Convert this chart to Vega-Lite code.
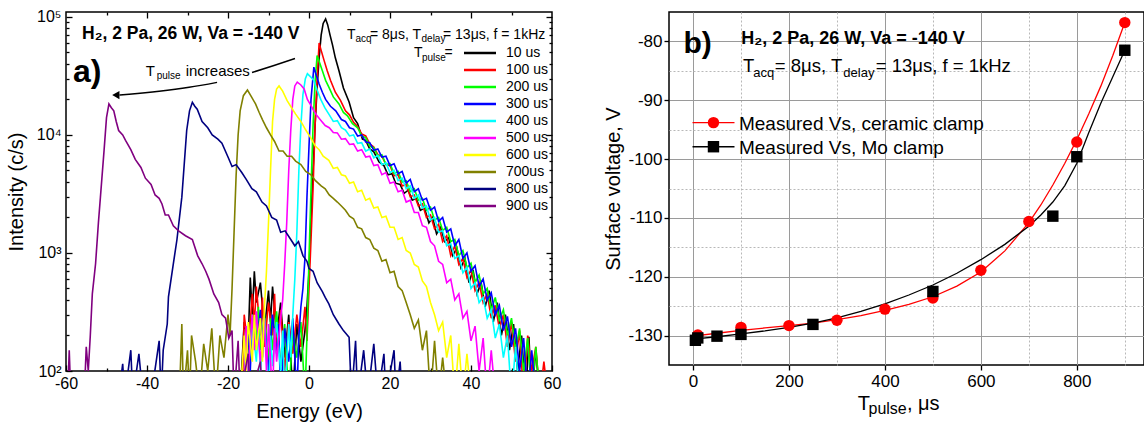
{
"$schema": "https://vega.github.io/schema/vega-lite/v6.json",
"padding": {"left": 5, "top": 8, "right": 0, "bottom": 0},
"spacing": 40,
"resolve": {"scale": {"color": "independent", "stroke": "independent", "shape": "independent"}, "legend": {"color": "independent"}},
"config": {
  "font": "Liberation Sans",
  "view": {"stroke": "#000000", "strokeWidth": 1.5},
  "axis": {"domain": false, "grid": false, "tickColor": "#000000", "tickWidth": 1.3, "labelColor": "#000000", "titleColor": "#000000", "titleFontWeight": "normal", "labelFont": "Liberation Sans", "titleFont": "Liberation Sans", "labelFlush": false, "labelOverlap": false}
},
"datasets": {
  "spec": [
{"s":"10 us","E":-17,"I":60},{"s":"10 us","E":-16,"I":260},{"s":"10 us","E":-15,"I":180},{"s":"10 us","E":-14.5,"I":620},{"s":"10 us","E":-14,"I":300},{"s":"10 us","E":-13.5,"I":700},{"s":"10 us","E":-13,"I":380},{"s":"10 us","E":-12,"I":560},{"s":"10 us","E":-11,"I":220},{"s":"10 us","E":-10,"I":480},{"s":"10 us","E":-9.5,"I":260},{"s":"10 us","E":-9,"I":520},{"s":"10 us","E":-8,"I":200},{"s":"10 us","E":-7,"I":380},{"s":"10 us","E":-6,"I":130},{"s":"10 us","E":-5,"I":300},{"s":"10 us","E":-4,"I":60},{"s":"10 us","E":-3,"I":250},{"s":"10 us","E":-2,"I":120},{"s":"10 us","E":-1,"I":220},{"s":"10 us","E":-0.5,"I":350},{"s":"10 us","E":0,"I":700},{"s":"10 us","E":0.5,"I":2000},{"s":"10 us","E":1,"I":5000},{"s":"10 us","E":1.5,"I":12000},{"s":"10 us","E":2,"I":25000},{"s":"10 us","E":2.5,"I":45000},{"s":"10 us","E":3,"I":70000},{"s":"10 us","E":3.5,"I":88000},{"s":"10 us","E":4.1,"I":96000},{"s":"10 us","E":4.6,"I":86000},{"s":"10 us","E":5.2,"I":70000},{"s":"10 us","E":5.8,"I":58000},{"s":"10 us","E":6.5,"I":45000},{"s":"10 us","E":7.4,"I":35000},{"s":"10 us","E":8.5,"I":25000},{"s":"10 us","E":9.9,"I":19000},{"s":"10 us","E":11,"I":14000},{"s":"10 us","E":12,"I":12500},{"s":"10 us","E":13.2,"I":9200},{"s":"10 us","E":14,"I":9000},{"s":"10 us","E":15,"I":7600},{"s":"10 us","E":16,"I":7200},{"s":"10 us","E":17.3,"I":5900},{"s":"10 us","E":18.5,"I":5500},{"s":"10 us","E":19.5,"I":4600},{"s":"10 us","E":20.5,"I":4700},{"s":"10 us","E":21.4,"I":3900},{"s":"10 us","E":22.5,"I":3800},{"s":"10 us","E":23.5,"I":3200},{"s":"10 us","E":24.5,"I":3400},{"s":"10 us","E":25.5,"I":2800},{"s":"10 us","E":26.5,"I":2900},{"s":"10 us","E":27.5,"I":2300},{"s":"10 us","E":28.5,"I":2400},{"s":"10 us","E":29.6,"I":1800},{"s":"10 us","E":30.5,"I":2000},{"s":"10 us","E":31.5,"I":1450},{"s":"10 us","E":32.5,"I":1650},{"s":"10 us","E":33.5,"I":1250},{"s":"10 us","E":34.5,"I":1350},{"s":"10 us","E":35.5,"I":950},{"s":"10 us","E":36.5,"I":1100},{"s":"10 us","E":37.5,"I":750},{"s":"10 us","E":38.5,"I":900},{"s":"10 us","E":39.5,"I":560},{"s":"10 us","E":40.5,"I":720},{"s":"10 us","E":41.5,"I":450},{"s":"10 us","E":42.5,"I":560},{"s":"10 us","E":43.5,"I":350},{"s":"10 us","E":44.5,"I":480},{"s":"10 us","E":45.5,"I":260},{"s":"10 us","E":46.5,"I":380},{"s":"10 us","E":47.5,"I":200},{"s":"10 us","E":48.5,"I":300},{"s":"10 us","E":49.5,"I":150},{"s":"10 us","E":50.5,"I":250},{"s":"10 us","E":51.5,"I":100},{"s":"10 us","E":52.5,"I":200},{"s":"10 us","E":53.5,"I":60},{"s":"10 us","E":54.3,"I":195},{"s":"10 us","E":55,"I":60},{"s":"10 us","E":56,"I":150},{"s":"10 us","E":57,"I":60},{"s":"10 us","E":58,"I":60},
{"s":"100 us","E":-16.5,"I":60},{"s":"100 us","E":-16,"I":300},{"s":"100 us","E":-15,"I":150},{"s":"100 us","E":-14,"I":450},{"s":"100 us","E":-13.5,"I":250},{"s":"100 us","E":-13,"I":520},{"s":"100 us","E":-12,"I":200},{"s":"100 us","E":-11.5,"I":420},{"s":"100 us","E":-11,"I":160},{"s":"100 us","E":-10,"I":380},{"s":"100 us","E":-9,"I":200},{"s":"100 us","E":-8.5,"I":450},{"s":"100 us","E":-8,"I":150},{"s":"100 us","E":-7,"I":330},{"s":"100 us","E":-6,"I":100},{"s":"100 us","E":-5,"I":260},{"s":"100 us","E":-4,"I":140},{"s":"100 us","E":-3,"I":300},{"s":"100 us","E":-2,"I":160},{"s":"100 us","E":-1,"I":350},{"s":"100 us","E":-0.5,"I":180},{"s":"100 us","E":0,"I":500},{"s":"100 us","E":0.5,"I":1300},{"s":"100 us","E":1,"I":3500},{"s":"100 us","E":1.5,"I":12000},{"s":"100 us","E":2,"I":30000},{"s":"100 us","E":2.5,"I":60000},{"s":"100 us","E":3,"I":52000},{"s":"100 us","E":3.7,"I":43000},{"s":"100 us","E":4.5,"I":35000},{"s":"100 us","E":5.3,"I":29000},{"s":"100 us","E":6.5,"I":23000},{"s":"100 us","E":7.8,"I":19500},{"s":"100 us","E":9,"I":16000},{"s":"100 us","E":10,"I":14800},{"s":"100 us","E":11,"I":12800},{"s":"100 us","E":12,"I":11800},{"s":"100 us","E":13,"I":10200},{"s":"100 us","E":14,"I":9800},{"s":"100 us","E":15,"I":8400},{"s":"100 us","E":16,"I":7900},{"s":"100 us","E":17,"I":6800},{"s":"100 us","E":18,"I":6600},{"s":"100 us","E":19,"I":5600},{"s":"100 us","E":20,"I":5500},{"s":"100 us","E":21,"I":4500},{"s":"100 us","E":22,"I":4600},{"s":"100 us","E":23,"I":3700},{"s":"100 us","E":24,"I":3800},{"s":"100 us","E":25,"I":3000},{"s":"100 us","E":26,"I":3100},{"s":"100 us","E":27,"I":2500},{"s":"100 us","E":28,"I":2600},{"s":"100 us","E":29,"I":2000},{"s":"100 us","E":30,"I":2100},{"s":"100 us","E":31,"I":1600},{"s":"100 us","E":32,"I":1750},{"s":"100 us","E":33,"I":1250},{"s":"100 us","E":34,"I":1400},{"s":"100 us","E":35,"I":950},{"s":"100 us","E":36,"I":1150},{"s":"100 us","E":37,"I":800},{"s":"100 us","E":38,"I":900},{"s":"100 us","E":39,"I":620},{"s":"100 us","E":40,"I":720},{"s":"100 us","E":41,"I":480},{"s":"100 us","E":42,"I":560},{"s":"100 us","E":43,"I":380},{"s":"100 us","E":44,"I":450},{"s":"100 us","E":45,"I":280},{"s":"100 us","E":46,"I":360},{"s":"100 us","E":47,"I":230},{"s":"100 us","E":48,"I":300},{"s":"100 us","E":49,"I":160},{"s":"100 us","E":50,"I":260},{"s":"100 us","E":51,"I":120},{"s":"100 us","E":52,"I":220},{"s":"100 us","E":53,"I":60},{"s":"100 us","E":54,"I":200},{"s":"100 us","E":55,"I":100},{"s":"100 us","E":56,"I":160},{"s":"100 us","E":57,"I":60},{"s":"100 us","E":58,"I":120},{"s":"100 us","E":59,"I":60},
{"s":"200 us","E":-16,"I":60},{"s":"200 us","E":-15.5,"I":200},{"s":"200 us","E":-15,"I":120},{"s":"200 us","E":-14,"I":300},{"s":"200 us","E":-13,"I":180},{"s":"200 us","E":-12.5,"I":350},{"s":"200 us","E":-12,"I":150},{"s":"200 us","E":-11,"I":300},{"s":"200 us","E":-10,"I":120},{"s":"200 us","E":-9.5,"I":280},{"s":"200 us","E":-9,"I":150},{"s":"200 us","E":-8,"I":320},{"s":"200 us","E":-7,"I":110},{"s":"200 us","E":-6,"I":250},{"s":"200 us","E":-5,"I":60},{"s":"200 us","E":-4,"I":220},{"s":"200 us","E":-3,"I":130},{"s":"200 us","E":-2,"I":260},{"s":"200 us","E":-1,"I":60},{"s":"200 us","E":-0.5,"I":200},{"s":"200 us","E":0,"I":900},{"s":"200 us","E":0.5,"I":3500},{"s":"200 us","E":1,"I":12000},{"s":"200 us","E":1.5,"I":28000},{"s":"200 us","E":2,"I":47000},{"s":"200 us","E":2.6,"I":41000},{"s":"200 us","E":3.3,"I":35000},{"s":"200 us","E":4.1,"I":29000},{"s":"200 us","E":4.9,"I":25400},{"s":"200 us","E":6,"I":21000},{"s":"200 us","E":7.4,"I":18300},{"s":"200 us","E":8.5,"I":15500},{"s":"200 us","E":9.5,"I":14500},{"s":"200 us","E":10.7,"I":12500},{"s":"200 us","E":12,"I":11500},{"s":"200 us","E":13,"I":9800},{"s":"200 us","E":14,"I":9500},{"s":"200 us","E":15,"I":8000},{"s":"200 us","E":16,"I":7800},{"s":"200 us","E":17,"I":6600},{"s":"200 us","E":18,"I":6800},{"s":"200 us","E":19,"I":5600},{"s":"200 us","E":20,"I":5700},{"s":"200 us","E":21,"I":4700},{"s":"200 us","E":22,"I":4900},{"s":"200 us","E":23,"I":4000},{"s":"200 us","E":24,"I":4100},{"s":"200 us","E":25,"I":3300},{"s":"200 us","E":26,"I":3500},{"s":"200 us","E":27,"I":2800},{"s":"200 us","E":28,"I":2900},{"s":"200 us","E":29,"I":2300},{"s":"200 us","E":30,"I":2450},{"s":"200 us","E":31,"I":1900},{"s":"200 us","E":32,"I":2000},{"s":"200 us","E":33,"I":1550},{"s":"200 us","E":34,"I":1650},{"s":"200 us","E":35,"I":1250},{"s":"200 us","E":36,"I":1300},{"s":"200 us","E":37,"I":950},{"s":"200 us","E":38,"I":1050},{"s":"200 us","E":39,"I":750},{"s":"200 us","E":40,"I":820},{"s":"200 us","E":41,"I":560},{"s":"200 us","E":42,"I":650},{"s":"200 us","E":43,"I":450},{"s":"200 us","E":44,"I":500},{"s":"200 us","E":45,"I":330},{"s":"200 us","E":46,"I":420},{"s":"200 us","E":47,"I":270},{"s":"200 us","E":48,"I":330},{"s":"200 us","E":49,"I":200},{"s":"200 us","E":50,"I":280},{"s":"200 us","E":51,"I":150},{"s":"200 us","E":52,"I":230},{"s":"200 us","E":53,"I":100},{"s":"200 us","E":54,"I":190},{"s":"200 us","E":55,"I":60},{"s":"200 us","E":56,"I":160},{"s":"200 us","E":57,"I":60},
{"s":"300 us","E":-16,"I":60},{"s":"300 us","E":-15,"I":220},{"s":"300 us","E":-14.5,"I":100},{"s":"300 us","E":-14,"I":280},{"s":"300 us","E":-13,"I":150},{"s":"300 us","E":-12,"I":330},{"s":"300 us","E":-11.5,"I":130},{"s":"300 us","E":-11,"I":260},{"s":"300 us","E":-10,"I":100},{"s":"300 us","E":-9,"I":300},{"s":"300 us","E":-8,"I":140},{"s":"300 us","E":-7.5,"I":250},{"s":"300 us","E":-7,"I":60},{"s":"300 us","E":-6,"I":230},{"s":"300 us","E":-5,"I":120},{"s":"300 us","E":-4,"I":280},{"s":"300 us","E":-3,"I":60},{"s":"300 us","E":-2.5,"I":200},{"s":"300 us","E":-2,"I":350},{"s":"300 us","E":-1.5,"I":500},{"s":"300 us","E":-1,"I":900},{"s":"300 us","E":-0.5,"I":3000},{"s":"300 us","E":0,"I":8000},{"s":"300 us","E":0.5,"I":20000},{"s":"300 us","E":1.2,"I":37500},{"s":"300 us","E":1.8,"I":32000},{"s":"300 us","E":2.5,"I":27000},{"s":"300 us","E":3.3,"I":23000},{"s":"300 us","E":4.1,"I":20000},{"s":"300 us","E":5.3,"I":17500},{"s":"300 us","E":6.6,"I":16000},{"s":"300 us","E":8,"I":13500},{"s":"300 us","E":9,"I":13000},{"s":"300 us","E":10,"I":11500},{"s":"300 us","E":11,"I":11200},{"s":"300 us","E":12,"I":9800},{"s":"300 us","E":13,"I":10000},{"s":"300 us","E":14,"I":8700},{"s":"300 us","E":15,"I":8600},{"s":"300 us","E":16,"I":7400},{"s":"300 us","E":17,"I":7600},{"s":"300 us","E":18,"I":6500},{"s":"300 us","E":19,"I":6600},{"s":"300 us","E":20,"I":5500},{"s":"300 us","E":21,"I":5700},{"s":"300 us","E":22,"I":4700},{"s":"300 us","E":23,"I":4900},{"s":"300 us","E":24,"I":3900},{"s":"300 us","E":25,"I":4200},{"s":"300 us","E":26,"I":3300},{"s":"300 us","E":27,"I":3500},{"s":"300 us","E":28,"I":2800},{"s":"300 us","E":29,"I":2900},{"s":"300 us","E":30,"I":2300},{"s":"300 us","E":31,"I":2450},{"s":"300 us","E":32,"I":1850},{"s":"300 us","E":33,"I":2000},{"s":"300 us","E":34,"I":1500},{"s":"300 us","E":35,"I":1600},{"s":"300 us","E":36,"I":1150},{"s":"300 us","E":37,"I":1300},{"s":"300 us","E":38,"I":900},{"s":"300 us","E":39,"I":1000},{"s":"300 us","E":40,"I":700},{"s":"300 us","E":41,"I":780},{"s":"300 us","E":42,"I":520},{"s":"300 us","E":43,"I":600},{"s":"300 us","E":44,"I":400},{"s":"300 us","E":45,"I":460},{"s":"300 us","E":46,"I":300},{"s":"300 us","E":47,"I":360},{"s":"300 us","E":48,"I":220},{"s":"300 us","E":49,"I":290},{"s":"300 us","E":50,"I":160},{"s":"300 us","E":51,"I":230},{"s":"300 us","E":52,"I":100},{"s":"300 us","E":53,"I":190},{"s":"300 us","E":54,"I":60},{"s":"300 us","E":55,"I":150},{"s":"300 us","E":56,"I":60},
{"s":"400 us","E":-16,"I":60},{"s":"400 us","E":-15.5,"I":180},{"s":"400 us","E":-15,"I":100},{"s":"400 us","E":-14,"I":250},{"s":"400 us","E":-13,"I":120},{"s":"400 us","E":-12.5,"I":230},{"s":"400 us","E":-12,"I":100},{"s":"400 us","E":-11,"I":280},{"s":"400 us","E":-10,"I":60},{"s":"400 us","E":-9.5,"I":200},{"s":"400 us","E":-9,"I":110},{"s":"400 us","E":-8,"I":260},{"s":"400 us","E":-7,"I":100},{"s":"400 us","E":-6.5,"I":220},{"s":"400 us","E":-6,"I":60},{"s":"400 us","E":-5,"I":250},{"s":"400 us","E":-4.5,"I":130},{"s":"400 us","E":-4,"I":300},{"s":"400 us","E":-3.5,"I":600},{"s":"400 us","E":-3,"I":1500},{"s":"400 us","E":-2.5,"I":5000},{"s":"400 us","E":-2,"I":12000},{"s":"400 us","E":-1.5,"I":22000},{"s":"400 us","E":-0.9,"I":30000},{"s":"400 us","E":-0.4,"I":33000},{"s":"400 us","E":0.4,"I":31000},{"s":"400 us","E":1.2,"I":29000},{"s":"400 us","E":2,"I":24000},{"s":"400 us","E":2.9,"I":20000},{"s":"400 us","E":3.9,"I":17000},{"s":"400 us","E":4.9,"I":15000},{"s":"400 us","E":6,"I":13000},{"s":"400 us","E":7,"I":13200},{"s":"400 us","E":8,"I":11500},{"s":"400 us","E":9,"I":11000},{"s":"400 us","E":10,"I":9800},{"s":"400 us","E":11,"I":10000},{"s":"400 us","E":12,"I":8500},{"s":"400 us","E":13,"I":8600},{"s":"400 us","E":14,"I":7300},{"s":"400 us","E":15,"I":7600},{"s":"400 us","E":16,"I":6400},{"s":"400 us","E":17,"I":6700},{"s":"400 us","E":18,"I":5600},{"s":"400 us","E":19,"I":5800},{"s":"400 us","E":20,"I":4800},{"s":"400 us","E":21,"I":5000},{"s":"400 us","E":22,"I":4100},{"s":"400 us","E":23,"I":4300},{"s":"400 us","E":24,"I":3500},{"s":"400 us","E":25,"I":3700},{"s":"400 us","E":26,"I":2900},{"s":"400 us","E":27,"I":3100},{"s":"400 us","E":28,"I":2400},{"s":"400 us","E":29,"I":2500},{"s":"400 us","E":30,"I":1900},{"s":"400 us","E":31,"I":2000},{"s":"400 us","E":32,"I":1500},{"s":"400 us","E":33,"I":1550},{"s":"400 us","E":34,"I":1150},{"s":"400 us","E":35,"I":1200},{"s":"400 us","E":36,"I":900},{"s":"400 us","E":37,"I":950},{"s":"400 us","E":38,"I":680},{"s":"400 us","E":39,"I":760},{"s":"400 us","E":40,"I":500},{"s":"400 us","E":41,"I":560},{"s":"400 us","E":42,"I":380},{"s":"400 us","E":43,"I":420},{"s":"400 us","E":44,"I":280},{"s":"400 us","E":45,"I":330},{"s":"400 us","E":46,"I":190},{"s":"400 us","E":47,"I":250},{"s":"400 us","E":48,"I":130},{"s":"400 us","E":49,"I":200},{"s":"400 us","E":50,"I":60},{"s":"400 us","E":51,"I":160},{"s":"400 us","E":52,"I":60},
{"s":"500 us","E":-16,"I":60},{"s":"500 us","E":-15.5,"I":240},{"s":"500 us","E":-15,"I":100},{"s":"500 us","E":-14,"I":300},{"s":"500 us","E":-13.5,"I":150},{"s":"500 us","E":-13,"I":320},{"s":"500 us","E":-12,"I":120},{"s":"500 us","E":-11,"I":280},{"s":"500 us","E":-10.5,"I":100},{"s":"500 us","E":-10,"I":250},{"s":"500 us","E":-9,"I":60},{"s":"500 us","E":-8.5,"I":230},{"s":"500 us","E":-8,"I":120},{"s":"500 us","E":-7,"I":280},{"s":"500 us","E":-6.5,"I":400},{"s":"500 us","E":-6,"I":800},{"s":"500 us","E":-5.5,"I":1800},{"s":"500 us","E":-5,"I":5000},{"s":"500 us","E":-4.5,"I":11000},{"s":"500 us","E":-4,"I":20000},{"s":"500 us","E":-3.5,"I":26000},{"s":"500 us","E":-2.9,"I":28000},{"s":"500 us","E":-2,"I":26500},{"s":"500 us","E":-1.2,"I":24500},{"s":"500 us","E":-0.4,"I":20000},{"s":"500 us","E":0.4,"I":18000},{"s":"500 us","E":1.2,"I":16000},{"s":"500 us","E":2,"I":14500},{"s":"500 us","E":3,"I":13200},{"s":"500 us","E":4,"I":12000},{"s":"500 us","E":5,"I":11500},{"s":"500 us","E":6,"I":10500},{"s":"500 us","E":7,"I":10400},{"s":"500 us","E":8,"I":9200},{"s":"500 us","E":9,"I":9300},{"s":"500 us","E":10,"I":8300},{"s":"500 us","E":11,"I":8400},{"s":"500 us","E":12,"I":7300},{"s":"500 us","E":13,"I":7500},{"s":"500 us","E":14,"I":6500},{"s":"500 us","E":15,"I":6600},{"s":"500 us","E":16,"I":5500},{"s":"500 us","E":17,"I":5600},{"s":"500 us","E":18,"I":4600},{"s":"500 us","E":19,"I":4800},{"s":"500 us","E":20,"I":3900},{"s":"500 us","E":21,"I":4000},{"s":"500 us","E":22,"I":3300},{"s":"500 us","E":23,"I":3400},{"s":"500 us","E":24,"I":2700},{"s":"500 us","E":25,"I":2800},{"s":"500 us","E":26,"I":2200},{"s":"500 us","E":27,"I":2200},{"s":"500 us","E":28,"I":1700},{"s":"500 us","E":29,"I":1650},{"s":"500 us","E":30,"I":1250},{"s":"500 us","E":31,"I":1150},{"s":"500 us","E":32,"I":850},{"s":"500 us","E":33,"I":800},{"s":"500 us","E":34,"I":560},{"s":"500 us","E":35,"I":600},{"s":"500 us","E":36,"I":400},{"s":"500 us","E":37,"I":450},{"s":"500 us","E":38,"I":280},{"s":"500 us","E":39,"I":320},{"s":"500 us","E":40,"I":180},{"s":"500 us","E":41,"I":240},{"s":"500 us","E":42,"I":100},{"s":"500 us","E":43,"I":190},{"s":"500 us","E":44,"I":60},{"s":"500 us","E":45,"I":150},{"s":"500 us","E":46,"I":60},
{"s":"600 us","E":-17,"I":60},{"s":"600 us","E":-16,"I":200},{"s":"600 us","E":-15.5,"I":100},{"s":"600 us","E":-15,"I":260},{"s":"600 us","E":-14,"I":120},{"s":"600 us","E":-13.5,"I":300},{"s":"600 us","E":-13,"I":150},{"s":"600 us","E":-12,"I":280},{"s":"600 us","E":-11.5,"I":120},{"s":"600 us","E":-11,"I":350},{"s":"600 us","E":-10.5,"I":700},{"s":"600 us","E":-10,"I":1800},{"s":"600 us","E":-9.5,"I":5000},{"s":"600 us","E":-9,"I":13000},{"s":"600 us","E":-8.5,"I":20000},{"s":"600 us","E":-8,"I":24500},{"s":"600 us","E":-7.4,"I":26000},{"s":"600 us","E":-6.5,"I":23500},{"s":"600 us","E":-5.4,"I":19500},{"s":"600 us","E":-4.3,"I":17000},{"s":"600 us","E":-3.3,"I":15000},{"s":"600 us","E":-2,"I":13000},{"s":"600 us","E":-0.8,"I":11000},{"s":"600 us","E":0.4,"I":9500},{"s":"600 us","E":1.6,"I":8000},{"s":"600 us","E":2.5,"I":7500},{"s":"600 us","E":3.5,"I":6600},{"s":"600 us","E":4.9,"I":6100},{"s":"600 us","E":6,"I":5200},{"s":"600 us","E":7,"I":5300},{"s":"600 us","E":8,"I":4600},{"s":"600 us","E":9,"I":4500},{"s":"600 us","E":10,"I":3900},{"s":"600 us","E":11,"I":4000},{"s":"600 us","E":12,"I":3300},{"s":"600 us","E":13,"I":3400},{"s":"600 us","E":14,"I":2800},{"s":"600 us","E":15,"I":2900},{"s":"600 us","E":16,"I":2400},{"s":"600 us","E":17,"I":2450},{"s":"600 us","E":18,"I":2000},{"s":"600 us","E":19,"I":2050},{"s":"600 us","E":20,"I":1650},{"s":"600 us","E":21,"I":1650},{"s":"600 us","E":22,"I":1300},{"s":"600 us","E":23,"I":1350},{"s":"600 us","E":24,"I":1050},{"s":"600 us","E":25,"I":1000},{"s":"600 us","E":26,"I":800},{"s":"600 us","E":27,"I":760},{"s":"600 us","E":28,"I":580},{"s":"600 us","E":29,"I":520},{"s":"600 us","E":30,"I":380},{"s":"600 us","E":31,"I":300},{"s":"600 us","E":32,"I":220},{"s":"600 us","E":33,"I":260},{"s":"600 us","E":34,"I":130},{"s":"600 us","E":35,"I":200},{"s":"600 us","E":36,"I":60},{"s":"600 us","E":37,"I":170},{"s":"600 us","E":38,"I":60},{"s":"600 us","E":39,"I":140},{"s":"600 us","E":40,"I":60},
{"s":"700us","E":-32,"I":60},{"s":"700us","E":-31.4,"I":250},{"s":"700us","E":-31,"I":60},{"s":"700us","E":-30,"I":150},{"s":"700us","E":-29.5,"I":60},{"s":"700us","E":-29,"I":200},{"s":"700us","E":-28,"I":120},{"s":"700us","E":-27,"I":60},{"s":"700us","E":-26,"I":170},{"s":"700us","E":-25,"I":100},{"s":"700us","E":-24,"I":230},{"s":"700us","E":-23,"I":60},{"s":"700us","E":-22,"I":200},{"s":"700us","E":-21,"I":130},{"s":"700us","E":-20,"I":300},{"s":"700us","E":-19.5,"I":200},{"s":"700us","E":-19,"I":500},{"s":"700us","E":-18.5,"I":1500},{"s":"700us","E":-18,"I":4500},{"s":"700us","E":-17.5,"I":10000},{"s":"700us","E":-17,"I":16000},{"s":"700us","E":-16.2,"I":21500},{"s":"700us","E":-15.2,"I":24000},{"s":"700us","E":-14.2,"I":21000},{"s":"700us","E":-13.2,"I":18300},{"s":"700us","E":-12.3,"I":15500},{"s":"700us","E":-11.5,"I":13500},{"s":"700us","E":-10.5,"I":11500},{"s":"700us","E":-9.5,"I":10000},{"s":"700us","E":-8.5,"I":8800},{"s":"700us","E":-7.4,"I":7300},{"s":"700us","E":-6.4,"I":7300},{"s":"700us","E":-5.4,"I":6600},{"s":"700us","E":-4.3,"I":6600},{"s":"700us","E":-3.3,"I":6000},{"s":"700us","E":-2,"I":5600},{"s":"700us","E":-0.8,"I":4900},{"s":"700us","E":0.5,"I":4600},{"s":"700us","E":1.6,"I":4100},{"s":"700us","E":3,"I":3700},{"s":"700us","E":4,"I":3500},{"s":"700us","E":5,"I":3100},{"s":"700us","E":6,"I":2900},{"s":"700us","E":7,"I":2700},{"s":"700us","E":8,"I":2500},{"s":"700us","E":9,"I":2300},{"s":"700us","E":10,"I":2050},{"s":"700us","E":11,"I":1950},{"s":"700us","E":12,"I":1650},{"s":"700us","E":13,"I":1600},{"s":"700us","E":14,"I":1350},{"s":"700us","E":15,"I":1300},{"s":"700us","E":16,"I":1100},{"s":"700us","E":17,"I":1050},{"s":"700us","E":18,"I":850},{"s":"700us","E":19,"I":880},{"s":"700us","E":20,"I":680},{"s":"700us","E":21,"I":700},{"s":"700us","E":22,"I":520},{"s":"700us","E":23,"I":480},{"s":"700us","E":24,"I":380},{"s":"700us","E":25,"I":300},{"s":"700us","E":26,"I":230},{"s":"700us","E":27,"I":270},{"s":"700us","E":28,"I":150},{"s":"700us","E":29,"I":220},{"s":"700us","E":30,"I":60},{"s":"700us","E":31,"I":180},{"s":"700us","E":32,"I":60},{"s":"700us","E":33,"I":130},{"s":"700us","E":34,"I":60},
{"s":"800 us","E":-47,"I":60},{"s":"800 us","E":-46,"I":115},{"s":"800 us","E":-45.5,"I":60},{"s":"800 us","E":-44,"I":150},{"s":"800 us","E":-43.5,"I":60},{"s":"800 us","E":-42,"I":140},{"s":"800 us","E":-41,"I":60},{"s":"800 us","E":-40,"I":100},{"s":"800 us","E":-39,"I":60},{"s":"800 us","E":-37,"I":180},{"s":"800 us","E":-36.5,"I":60},{"s":"800 us","E":-36,"I":150},{"s":"800 us","E":-35,"I":250},{"s":"800 us","E":-34.7,"I":425},{"s":"800 us","E":-33.5,"I":810},{"s":"800 us","E":-32.6,"I":1300},{"s":"800 us","E":-31.4,"I":2970},{"s":"800 us","E":-30.2,"I":10900},{"s":"800 us","E":-29.5,"I":16000},{"s":"800 us","E":-28.8,"I":18900},{"s":"800 us","E":-28.2,"I":17500},{"s":"800 us","E":-27.6,"I":16500},{"s":"800 us","E":-26.4,"I":13000},{"s":"800 us","E":-25,"I":11500},{"s":"800 us","E":-23.9,"I":10000},{"s":"800 us","E":-22.5,"I":9200},{"s":"800 us","E":-21.5,"I":8500},{"s":"800 us","E":-20,"I":6500},{"s":"800 us","E":-19,"I":5400},{"s":"800 us","E":-18,"I":5600},{"s":"800 us","E":-16.6,"I":4800},{"s":"800 us","E":-15.5,"I":4200},{"s":"800 us","E":-14.1,"I":3500},{"s":"800 us","E":-13,"I":3300},{"s":"800 us","E":-11.6,"I":2700},{"s":"800 us","E":-10.5,"I":2500},{"s":"800 us","E":-9.2,"I":2000},{"s":"800 us","E":-8,"I":1900},{"s":"800 us","E":-7,"I":1500},{"s":"800 us","E":-5.9,"I":1540},{"s":"800 us","E":-4.5,"I":1300},{"s":"800 us","E":-3.5,"I":1150},{"s":"800 us","E":-2.6,"I":1250},{"s":"800 us","E":-1.5,"I":950},{"s":"800 us","E":-0.5,"I":850},{"s":"800 us","E":0,"I":740},{"s":"800 us","E":1,"I":700},{"s":"800 us","E":2,"I":560},{"s":"800 us","E":3.3,"I":470},{"s":"800 us","E":4,"I":420},{"s":"800 us","E":4.9,"I":370},{"s":"800 us","E":6,"I":300},{"s":"800 us","E":7.4,"I":250},{"s":"800 us","E":8.5,"I":220},{"s":"800 us","E":9.9,"I":193},{"s":"800 us","E":10.5,"I":60},{"s":"800 us","E":11.5,"I":180},{"s":"800 us","E":12,"I":60},{"s":"800 us","E":13.5,"I":150},{"s":"800 us","E":14.5,"I":60},{"s":"800 us","E":16,"I":170},{"s":"800 us","E":17,"I":60},{"s":"800 us","E":18.5,"I":140},{"s":"800 us","E":19,"I":60},{"s":"800 us","E":21,"I":150},{"s":"800 us","E":21.5,"I":60},{"s":"800 us","E":22.5,"I":120},{"s":"800 us","E":23,"I":60},
{"s":"900 us","E":-59.6,"I":60},{"s":"900 us","E":-59.2,"I":150},{"s":"900 us","E":-58.8,"I":60},{"s":"900 us","E":-55.5,"I":60},{"s":"900 us","E":-55,"I":160},{"s":"900 us","E":-54.5,"I":100},{"s":"900 us","E":-54,"I":200},{"s":"900 us","E":-53.5,"I":450},{"s":"900 us","E":-53,"I":650},{"s":"900 us","E":-52.7,"I":810},{"s":"900 us","E":-52,"I":1800},{"s":"900 us","E":-51.5,"I":2970},{"s":"900 us","E":-50.6,"I":7400},{"s":"900 us","E":-50,"I":14000},{"s":"900 us","E":-49.4,"I":18300},{"s":"900 us","E":-48.8,"I":17000},{"s":"900 us","E":-48.2,"I":16000},{"s":"900 us","E":-47.6,"I":13000},{"s":"900 us","E":-47,"I":10900},{"s":"900 us","E":-46,"I":10000},{"s":"900 us","E":-45.3,"I":9000},{"s":"900 us","E":-44,"I":7500},{"s":"900 us","E":-42.9,"I":6200},{"s":"900 us","E":-41.5,"I":5300},{"s":"900 us","E":-40.4,"I":4300},{"s":"900 us","E":-39,"I":3800},{"s":"900 us","E":-38,"I":3100},{"s":"900 us","E":-37,"I":2900},{"s":"900 us","E":-36.3,"I":2600},{"s":"900 us","E":-35.5,"I":2100},{"s":"900 us","E":-34.7,"I":2100},{"s":"900 us","E":-33.5,"I":1700},{"s":"900 us","E":-32.2,"I":1540},{"s":"900 us","E":-30.5,"I":1400},{"s":"900 us","E":-28.8,"I":1300},{"s":"900 us","E":-27.5,"I":950},{"s":"900 us","E":-26.4,"I":810},{"s":"900 us","E":-25.5,"I":700},{"s":"900 us","E":-24.7,"I":600},{"s":"900 us","E":-23.5,"I":450},{"s":"900 us","E":-22.3,"I":380},{"s":"900 us","E":-21.5,"I":300},{"s":"900 us","E":-20.6,"I":280},{"s":"900 us","E":-19.8,"I":190},{"s":"900 us","E":-19,"I":220},{"s":"900 us","E":-18.5,"I":60},{"s":"900 us","E":-17.5,"I":180},{"s":"900 us","E":-17,"I":60},{"s":"900 us","E":-15,"I":140},{"s":"900 us","E":-14.5,"I":60},{"s":"900 us","E":-12,"I":120},{"s":"900 us","E":-11.5,"I":60}
  ],
  "arrow": [
    {"seg":"a","E":-3.46,"I":44360},{"seg":"a","E":-8.64,"I":38730},{"seg":"a","E":-14.07,"I":33800},
    {"seg":"b","E":-22.7,"I":27870},{"seg":"b","E":-29.6,"I":25300},{"seg":"b","E":-37.0,"I":23420},{"seg":"b","E":-44.4,"I":22130},{"seg":"b","E":-46.8,"I":21800}
  ],
  "fit": [
    {"series":"Measured Vs, ceramic clamp","T":0,"V":-130.1},{"series":"Measured Vs, ceramic clamp","T":50,"V":-129.6},{"series":"Measured Vs, ceramic clamp","T":100,"V":-129.1},{"series":"Measured Vs, ceramic clamp","T":150,"V":-128.7},{"series":"Measured Vs, ceramic clamp","T":200,"V":-128.3},{"series":"Measured Vs, ceramic clamp","T":250,"V":-127.9},{"series":"Measured Vs, ceramic clamp","T":300,"V":-127.3},{"series":"Measured Vs, ceramic clamp","T":350,"V":-126.6},{"series":"Measured Vs, ceramic clamp","T":400,"V":-125.7},{"series":"Measured Vs, ceramic clamp","T":450,"V":-124.7},{"series":"Measured Vs, ceramic clamp","T":500,"V":-123.4},{"series":"Measured Vs, ceramic clamp","T":550,"V":-121.6},{"series":"Measured Vs, ceramic clamp","T":600,"V":-119.2},{"series":"Measured Vs, ceramic clamp","T":650,"V":-115.6},{"series":"Measured Vs, ceramic clamp","T":700,"V":-110.8},{"series":"Measured Vs, ceramic clamp","T":725,"V":-107.8},{"series":"Measured Vs, ceramic clamp","T":750,"V":-104.4},{"series":"Measured Vs, ceramic clamp","T":775,"V":-100.7},{"series":"Measured Vs, ceramic clamp","T":800,"V":-96.7},{"series":"Measured Vs, ceramic clamp","T":825,"V":-92.3},{"series":"Measured Vs, ceramic clamp","T":850,"V":-87.6},{"series":"Measured Vs, ceramic clamp","T":875,"V":-82.4},{"series":"Measured Vs, ceramic clamp","T":900,"V":-76.8},
    {"series":"Measured Vs, Mo clamp","T":0,"V":-130.6},{"series":"Measured Vs, Mo clamp","T":50,"V":-130.2},{"series":"Measured Vs, Mo clamp","T":100,"V":-129.7},{"series":"Measured Vs, Mo clamp","T":150,"V":-129.2},{"series":"Measured Vs, Mo clamp","T":200,"V":-128.6},{"series":"Measured Vs, Mo clamp","T":250,"V":-127.9},{"series":"Measured Vs, Mo clamp","T":300,"V":-127.0},{"series":"Measured Vs, Mo clamp","T":350,"V":-125.9},{"series":"Measured Vs, Mo clamp","T":400,"V":-124.6},{"series":"Measured Vs, Mo clamp","T":450,"V":-123.1},{"series":"Measured Vs, Mo clamp","T":500,"V":-121.4},{"series":"Measured Vs, Mo clamp","T":550,"V":-119.4},{"series":"Measured Vs, Mo clamp","T":600,"V":-117.1},{"series":"Measured Vs, Mo clamp","T":650,"V":-114.5},{"series":"Measured Vs, Mo clamp","T":700,"V":-111.4},{"series":"Measured Vs, Mo clamp","T":725,"V":-109.5},{"series":"Measured Vs, Mo clamp","T":750,"V":-107.3},{"series":"Measured Vs, Mo clamp","T":775,"V":-104.5},{"series":"Measured Vs, Mo clamp","T":800,"V":-100.7},{"series":"Measured Vs, Mo clamp","T":825,"V":-95.5},{"series":"Measured Vs, Mo clamp","T":850,"V":-90.5},{"series":"Measured Vs, Mo clamp","T":875,"V":-86.0},{"series":"Measured Vs, Mo clamp","T":900,"V":-81.5}
  ],
  "pts": [
    {"series":"Measured Vs, ceramic clamp","T":10,"V":-129.9},{"series":"Measured Vs, ceramic clamp","T":100,"V":-128.6},{"series":"Measured Vs, ceramic clamp","T":200,"V":-128.3},{"series":"Measured Vs, ceramic clamp","T":300,"V":-127.4},{"series":"Measured Vs, ceramic clamp","T":400,"V":-125.5},{"series":"Measured Vs, ceramic clamp","T":500,"V":-123.6},{"series":"Measured Vs, ceramic clamp","T":600,"V":-118.9},{"series":"Measured Vs, ceramic clamp","T":700,"V":-110.6},{"series":"Measured Vs, ceramic clamp","T":800,"V":-97.1},{"series":"Measured Vs, ceramic clamp","T":900,"V":-76.8},
    {"series":"Measured Vs, Mo clamp","T":5,"V":-130.8},{"series":"Measured Vs, Mo clamp","T":10,"V":-130.4},{"series":"Measured Vs, Mo clamp","T":50,"V":-130.1},{"series":"Measured Vs, Mo clamp","T":100,"V":-129.8},{"series":"Measured Vs, Mo clamp","T":250,"V":-128.1},{"series":"Measured Vs, Mo clamp","T":500,"V":-122.5},{"series":"Measured Vs, Mo clamp","T":750,"V":-109.7},{"series":"Measured Vs, Mo clamp","T":800,"V":-99.6},{"series":"Measured Vs, Mo clamp","T":900,"V":-81.5}
  ],
  "legline": [
    {"series":"Measured Vs, ceramic clamp","T":-1,"V":-93.8},{"series":"Measured Vs, ceramic clamp","T":86.5,"V":-93.8},
    {"series":"Measured Vs, Mo clamp","T":-1,"V":-97.9},{"series":"Measured Vs, Mo clamp","T":86.5,"V":-97.9}
  ],
  "legpt": [
    {"series":"Measured Vs, ceramic clamp","T":42.7,"V":-93.8},
    {"series":"Measured Vs, Mo clamp","T":42.7,"V":-97.9}
  ],
  "legtxt": [
    {"t":"Measured Vs, ceramic clamp","T":95.8,"V":-95.0},
    {"t":"Measured Vs, Mo clamp","T":95.8,"V":-99.1}
  ]
},
"hconcat": [
{
  "width": 486, "height": 359,
  "resolve": {"axis": {"x": "independent", "y": "independent"}},
  "layer": [
    {
      "data": {"name": "spec"},
      "mark": {"type": "line", "strokeWidth": 1.6, "clip": true},
      "encoding": {
        "x": {"field": "E", "type": "quantitative", "scale": {"domain": [-60, 60], "nice": false, "zero": false},
              "axis": {"orient": "bottom", "values": [-60,-40,-20,0,20,40,60], "labelExpr": "datum.value + ''", "tickSize": -6, "labelPadding": 10, "labelFontSize": 16, "title": "Energy (eV)", "titleFontSize": 20, "titlePadding": 10}},
        "y": {"field": "I", "type": "quantitative", "scale": {"type": "log", "domain": [100, 110000], "nice": false},
              "axis": {"orient": "left", "values": [100,1000,10000,100000], "labelExpr": "datum.value == 100 ? '10²' : datum.value == 1000 ? '10³' : datum.value == 10000 ? '10⁴' : '10⁵'", "tickSize": -6, "labelPadding": 11, "labelFontSize": 16, "title": "Intensity (c/s)", "titleFontSize": 20, "titlePadding": 12, "minExtent": 28, "maxExtent": 28}},
        "color": {"field": "s", "type": "nominal",
                  "scale": {"domain": ["10 us","100 us","200 us","300 us","400 us","500 us","600 us","700us","800 us","900 us"], "range": ["#000000","#ff0000","#00ff00","#0000ff","#00ffff","#ff00ff","#ffff00","#808000","#000080","#800080"]},
                  "legend": {"orient": "none", "legendX": 407, "legendY": 34, "title": null, "symbolType": "M-3.2,0H3.2", "symbolSize": 100, "symbolStrokeWidth": 2.5, "labelFontSize": 14, "labelFont": "Liberation Sans", "labelColor": "#000000", "rowPadding": 3, "labelOffset": 19, "padding": 0}}
      }
    },
    {
      "data": {"values": [{"E": 0, "I": 1000}]},
      "mark": {"type": "point", "opacity": 0},
      "encoding": {
        "x": {"field": "E", "type": "quantitative", "axis": {"orient": "bottom", "values": [-50,-30,-10,10,30,50], "tickSize": -3, "labels": false, "title": null}},
        "y": {"field": "I", "type": "quantitative", "axis": {"orient": "left", "values": [200,300,400,500,600,700,800,900,2000,3000,4000,5000,6000,7000,8000,9000,20000,30000,40000,50000,60000,70000,80000,90000], "tickSize": -3, "labels": false, "title": null}}
      }
    },
    {
      "data": {"values": [{"E": 0, "I": 1000}]},
      "mark": {"type": "point", "opacity": 0},
      "encoding": {
        "x": {"field": "E", "type": "quantitative", "axis": {"orient": "top", "values": [-40,-20,0,20,40], "tickSize": -6, "labels": false, "title": null}},
        "y": {"field": "I", "type": "quantitative", "axis": {"orient": "right", "values": [1000,10000,100000], "tickSize": -6, "labels": false, "title": null}}
      }
    },
    {
      "data": {"values": [{"E": 0, "I": 1000}]},
      "mark": {"type": "point", "opacity": 0},
      "encoding": {
        "x": {"field": "E", "type": "quantitative", "axis": {"orient": "top", "values": [-50,-30,-10,10,30,50], "tickSize": -3, "labels": false, "title": null}},
        "y": {"field": "I", "type": "quantitative", "axis": {"orient": "right", "values": [200,300,400,500,600,700,800,900,2000,3000,4000,5000,6000,7000,8000,9000,20000,30000,40000,50000,60000,70000,80000,90000], "tickSize": -3, "labels": false, "title": null}}
      }
    },
    {
      "data": {"name": "arrow"},
      "mark": {"type": "line", "color": "#000000", "strokeWidth": 1.5, "interpolate": "monotone"},
      "encoding": {
        "x": {"field": "E", "type": "quantitative", "axis": null},
        "y": {"field": "I", "type": "quantitative", "axis": null},
        "detail": {"field": "seg"}
      }
    },
    {
      "data": {"values": [{"E": -47.7, "I": 21750}]},
      "mark": {"type": "point", "shape": "triangle-left", "filled": true, "color": "#000000", "opacity": 1, "size": 70},
      "encoding": {
        "x": {"field": "E", "type": "quantitative", "axis": null},
        "y": {"field": "I", "type": "quantitative", "axis": null}
      }
    },
    {
      "data": {"values": [{"t": "H₂, 2 Pa, 26 W, Va  = -140 V", "E": -56.05, "I": 65100}]},
      "mark": {"type": "text", "align": "left", "baseline": "alphabetic", "fontSize": 17.5, "fontWeight": "bold", "color": "#000000"},
      "encoding": {"x": {"field": "E", "type": "quantitative", "axis": null}, "y": {"field": "I", "type": "quantitative", "axis": null}, "text": {"field": "t"}}
    },
    {
      "data": {"values": [{"t": "a)", "E": -58.3, "I": 28000}]},
      "mark": {"type": "text", "align": "left", "baseline": "alphabetic", "fontSize": 32, "fontWeight": "bold", "color": "#000000"},
      "encoding": {"x": {"field": "E", "type": "quantitative", "axis": null}, "y": {"field": "I", "type": "quantitative", "axis": null}, "text": {"field": "t"}}
    },
    {
      "data": {"values": [{"t": "T", "E": 9.38, "I": 65200}, {"t": "= 8μs, T", "E": 15.06, "I": 65200}, {"t": "= 13μs, f = 1kHz", "E": 33.09, "I": 65200}, {"t": "T", "E": 25.93, "I": 45500}, {"t": "=", "E": 33.46, "I": 45500}]},
      "mark": {"type": "text", "align": "left", "baseline": "alphabetic", "fontSize": 14, "color": "#000000"},
      "encoding": {"x": {"field": "E", "type": "quantitative", "axis": null}, "y": {"field": "I", "type": "quantitative", "axis": null}, "text": {"field": "t"}}
    },
    {
      "data": {"values": [{"t": "acq", "E": 11.48, "I": 60800}, {"t": "delay", "E": 27.78, "I": 60800}, {"t": "pulse", "E": 27.9, "I": 42200}, {"t": "pulse", "E": -37.6, "I": 29850}]},
      "mark": {"type": "text", "align": "left", "baseline": "alphabetic", "fontSize": 10, "color": "#000000"},
      "encoding": {"x": {"field": "E", "type": "quantitative", "axis": null}, "y": {"field": "I", "type": "quantitative", "axis": null}, "text": {"field": "t"}}
    },
    {
      "data": {"values": [{"t": "T", "E": -40.32, "I": 31850}, {"t": "increases", "E": -30.45, "I": 31850}]},
      "mark": {"type": "text", "align": "left", "baseline": "alphabetic", "fontSize": 15, "color": "#000000"},
      "encoding": {"x": {"field": "E", "type": "quantitative", "axis": null}, "y": {"field": "I", "type": "quantitative", "axis": null}, "text": {"field": "t"}}
    }
  ]
},
{
  "width": 475, "height": 353,
  "resolve": {"axis": {"x": "independent", "y": "independent"}},
  "layer": [
    {
      "data": {"values": [{"T": 0, "V": -100}]},
      "mark": {"type": "point", "opacity": 0},
      "encoding": {
        "x": {"field": "T", "type": "quantitative", "scale": {"domain": [-50, 940], "nice": false, "zero": false}, "axis": {"orient": "bottom", "values": [100,300,500,700,900], "grid": true, "gridColor": "#b8b8b8", "gridDash": [2,2], "gridWidth": 1, "ticks": false, "labels": false, "title": null}},
        "y": {"field": "V", "type": "quantitative", "scale": {"domain": [-135, -75], "nice": false, "zero": false}, "axis": {"orient": "left", "values": [-125,-115,-105,-95,-85], "grid": true, "gridColor": "#b8b8b8", "gridDash": [2,2], "gridWidth": 1, "ticks": false, "labels": false, "title": null}}
      }
    },
    {
      "data": {"name": "fit"},
      "mark": {"type": "line", "strokeWidth": 1.3},
      "encoding": {
        "x": {"field": "T", "type": "quantitative", "axis": {"orient": "bottom", "values": [0,200,400,600,800], "grid": true, "gridColor": "#9a9a9a", "gridWidth": 1, "tickSize": 5, "labelPadding": 3, "labelFontSize": 17, "labelExpr": "datum.value + ''", "title": null}},
        "y": {"field": "V", "type": "quantitative", "axis": {"orient": "left", "values": [-130,-120,-110,-100,-90,-80], "grid": true, "gridColor": "#9a9a9a", "gridWidth": 1, "tickSize": 5, "labelPadding": 2, "labelFontSize": 17, "labelExpr": "datum.value + ''", "title": "Surface voltage, V", "titleFontSize": 20, "titlePadding": 5, "minExtent": 41, "maxExtent": 41}},
        "stroke": {"field": "series", "type": "nominal", "scale": {"domain": ["Measured Vs, ceramic clamp", "Measured Vs, Mo clamp"], "range": ["#ff0000", "#000000"]}, "legend": null}
      }
    },
    {
      "data": {"name": "legline"},
      "mark": {"type": "line", "strokeWidth": 1.3},
      "encoding": {
        "x": {"field": "T", "type": "quantitative", "axis": null},
        "y": {"field": "V", "type": "quantitative", "axis": null},
        "stroke": {"field": "series", "type": "nominal", "legend": null}
      }
    },
    {
      "data": {"name": "pts"},
      "mark": {"type": "point", "filled": true, "opacity": 1, "size": 130},
      "encoding": {
        "x": {"field": "T", "type": "quantitative", "axis": null},
        "y": {"field": "V", "type": "quantitative", "axis": null},
        "shape": {"field": "series", "type": "nominal", "scale": {"domain": ["Measured Vs, ceramic clamp", "Measured Vs, Mo clamp"], "range": ["circle", "square"]}, "legend": null},
        "color": {"field": "series", "type": "nominal", "scale": {"domain": ["Measured Vs, ceramic clamp", "Measured Vs, Mo clamp"], "range": ["#ff0000", "#000000"]}, "legend": null}
      }
    },
    {
      "data": {"name": "legpt"},
      "mark": {"type": "point", "filled": true, "opacity": 1, "size": 130},
      "encoding": {
        "x": {"field": "T", "type": "quantitative", "axis": null},
        "y": {"field": "V", "type": "quantitative", "axis": null},
        "shape": {"field": "series", "type": "nominal", "legend": null},
        "color": {"field": "series", "type": "nominal", "legend": null}
      }
    },
    {
      "data": {"name": "legtxt"},
      "mark": {"type": "text", "align": "left", "baseline": "alphabetic", "fontSize": 19, "color": "#000000"},
      "encoding": {"x": {"field": "T", "type": "quantitative", "axis": null}, "y": {"field": "V", "type": "quantitative", "axis": null}, "text": {"field": "t"}}
    },
    {
      "data": {"values": [{"t": "H₂, 2 Pa, 26 W, Va  = -140 V", "T": 100.6, "V": -80.46}]},
      "mark": {"type": "text", "align": "left", "baseline": "alphabetic", "fontSize": 18, "fontWeight": "bold", "color": "#000000"},
      "encoding": {"x": {"field": "T", "type": "quantitative", "axis": null}, "y": {"field": "V", "type": "quantitative", "axis": null}, "text": {"field": "t"}}
    },
    {
      "data": {"values": [{"t": "b)", "T": -20, "V": -81.9}]},
      "mark": {"type": "text", "align": "left", "baseline": "alphabetic", "fontSize": 30, "fontWeight": "bold", "color": "#000000"},
      "encoding": {"x": {"field": "T", "type": "quantitative", "axis": null}, "y": {"field": "V", "type": "quantitative", "axis": null}, "text": {"field": "t"}}
    },
    {
      "data": {"values": [{"t": "T", "T": 104, "V": -85.27}, {"t": "= 8μs, T", "T": 170.6, "V": -85.27}, {"t": "= 13μs, f = 1kHz", "T": 380.8, "V": -85.27}]},
      "mark": {"type": "text", "align": "left", "baseline": "alphabetic", "fontSize": 18.5, "color": "#000000"},
      "encoding": {"x": {"field": "T", "type": "quantitative", "axis": null}, "y": {"field": "V", "type": "quantitative", "axis": null}, "text": {"field": "t"}}
    },
    {
      "data": {"values": [{"t": "acq", "T": 125.4, "V": -86.1}, {"t": "delay", "T": 313.3, "V": -86.1}]},
      "mark": {"type": "text", "align": "left", "baseline": "alphabetic", "fontSize": 13, "color": "#000000"},
      "encoding": {"x": {"field": "T", "type": "quantitative", "axis": null}, "y": {"field": "V", "type": "quantitative", "axis": null}, "text": {"field": "t"}}
    },
    {
      "data": {"values": [{"t": "T", "T": 343.3, "V": -142.6}, {"t": ", μs", "T": 446, "V": -142.6}]},
      "mark": {"type": "text", "align": "left", "baseline": "alphabetic", "fontSize": 20, "color": "#000000"},
      "encoding": {"x": {"field": "T", "type": "quantitative", "axis": null}, "y": {"field": "V", "type": "quantitative", "axis": null}, "text": {"field": "t"}}
    },
    {
      "data": {"values": [{"t": "pulse", "T": 365.8, "V": -143.4}]},
      "mark": {"type": "text", "align": "left", "baseline": "alphabetic", "fontSize": 16, "color": "#000000"},
      "encoding": {"x": {"field": "T", "type": "quantitative", "axis": null}, "y": {"field": "V", "type": "quantitative", "axis": null}, "text": {"field": "t"}}
    }
  ]
}
]
}
